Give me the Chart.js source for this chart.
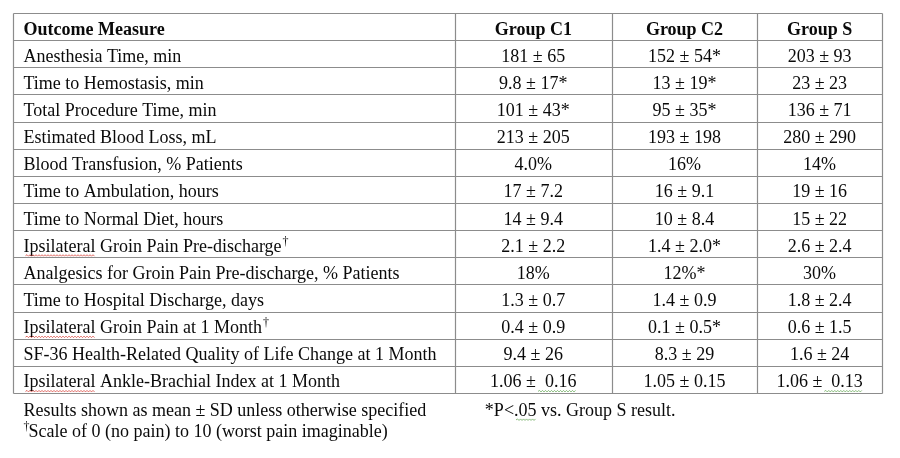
<!DOCTYPE html>
<html>
<head>
<meta charset="utf-8">
<script src="https://cdn.jsdelivr.net/npm/chart.js@4.4.1/dist/chart.umd.min.js"></script>
<style>
  html, body { margin: 0; padding: 0; background: #fff; }
  #wrap { width: 900px; height: 458px; }
</style>
</head>
<body>
<div id="wrap"><canvas id="outcomeChart"></canvas></div>
<script>
// table content
var columns = ["Outcome Measure", "Group C1", "Group C2", "Group S"];
var measures = [
	"Anesthesia Time, min",
	"Time to Hemostasis, min",
	"Total Procedure Time, min",
	"Estimated Blood Loss, mL",
	"Blood Transfusion, % Patients",
	"Time to Ambulation, hours",
	"Time to Normal Diet, hours",
	"Ipsilateral Groin Pain Pre-discharge\u2020",
	"Analgesics for Groin Pain Pre-discharge, % Patients",
	"Time to Hospital Discharge, days",
	"Ipsilateral Groin Pain at 1 Month\u2020",
	"SF-36 Health-Related Quality of Life Change at 1 Month",
	"Ipsilateral Ankle-Brachial Index at 1 Month"
];
var groupC1 = ["181 \u00b1 65", "9.8 \u00b1 17*", "101 \u00b1 43*", "213 \u00b1 205", "4.0%", "17 \u00b1 7.2",
	"14 \u00b1 9.4", "2.1 \u00b1 2.2", "18%", "1.3 \u00b1 0.7", "0.4 \u00b1 0.9", "9.4 \u00b1 26", "1.06 \u00b1  0.16"];
var groupC2 = ["152 \u00b1 54*", "13 \u00b1 19*", "95 \u00b1 35*", "193 \u00b1 198", "16%", "16 \u00b1 9.1",
	"10 \u00b1 8.4", "1.4 \u00b1 2.0*", "12%*", "1.4 \u00b1 0.9", "0.1 \u00b1 0.5*", "8.3 \u00b1 29", "1.05 \u00b1 0.15"];
var groupS = ["203 \u00b1 93", "23 \u00b1 23", "136 \u00b1 71", "280 \u00b1 290", "14%", "19 \u00b1 16",
	"15 \u00b1 22", "2.6 \u00b1 2.4", "30%", "1.8 \u00b1 2.4", "0.6 \u00b1 1.5", "1.6 \u00b1 24", "1.06 \u00b1  0.13"];
var notes = [
	"Results shown as mean \u00b1 SD unless otherwise specified",
	"\u2020Scale of 0 (no pain) to 10 (worst pain imaginable)",
	"*P<.05 vs. Group S result."
];

// layout (x in table fractions, y in row units)
var colEdges = [0, 0.5085, 0.689, 0.8564, 1];
var notePos = [[0.012, 14.55], [0.012, 15.33], [0.543, 14.55]];
var FONT = '"Liberation Serif", "Times New Roman", serif';
var SIZE = 18;
var LINE = '#8c8c8c';
var INK = '#0a0a0a';

// word-processor squiggles seen in the source picture (pre = text just before the marked part)
var squiggles = [
	{ pre: "", text: "Ipsilateral", color: '#d9453c' },
	{ pre: "\u00b1", text: "  0.16", color: '#6aaa5a' },
	{ pre: "\u00b1", text: "  0.13", color: '#6aaa5a' },
	{ pre: "P<", text: ".05", color: '#6aaa5a' }
];

function drawWavy(ctx, x0, x1, yy, color) {
	ctx.save();
	ctx.strokeStyle = color;
	ctx.lineWidth = 0.8;
	ctx.beginPath();
	var up = true;
	ctx.moveTo(x0, yy);
	for (var xx = x0 + 1.5; xx <= x1; xx += 1.5) {
		ctx.lineTo(xx, up ? yy - 1 : yy + 0.5);
		up = !up;
	}
	ctx.stroke();
	ctx.restore();
}

// draws text, superscript daggers and squiggles
function drawCell(ctx, str, x, base, align) {
	var mainFont = SIZE + 'px ' + FONT, supFont = '12px ' + FONT;
	ctx.font = mainFont;
	var parts = str.split('\u2020');
	var main = parts.join('');
	var w = ctx.measureText(main).width;
	var supW = 0;
	if (parts.length > 1) {
		ctx.font = supFont;
		supW = ctx.measureText('\u2020').width + 1;
		ctx.font = mainFont;
	}
	var start = align === 'center' ? x - (w + supW) / 2 : x;
	ctx.textAlign = 'left';
	ctx.textBaseline = 'alphabetic';
	ctx.fillStyle = INK;
	var cx = start;
	parts.forEach(function (p, k) {
		if (k > 0) {
			ctx.font = supFont;
			ctx.fillText('\u2020', cx + 1, base - 7);
			cx += supW;
			ctx.font = mainFont;
		}
		ctx.fillText(p, cx, base);
		cx += ctx.measureText(p).width;
	});
	squiggles.forEach(function (s) {
		var idx = main.indexOf(s.pre + s.text);
		if (idx < 0) return;
		var off = ctx.measureText(main.slice(0, idx + s.pre.length)).width;
		var sw = ctx.measureText(s.text).width;
		drawWavy(ctx, start + off + 2, start + off + sw, base + 4, s.color);
	});
}

var tablePlugin = {
	id: 'outcomeTable',
	beforeDraw: function (chart) {
		var ctx = chart.ctx;
		ctx.save();
		ctx.fillStyle = '#fff';
		ctx.fillRect(0, 0, chart.width, chart.height);
		ctx.restore();
	},
	afterDraw: function (chart) {
		var ctx = chart.ctx;
		var x = chart.scales.x, y = chart.scales.y;
		var nRows = measures.length + 1;
		var px = function (v) { return Math.round(x.getPixelForValue(v)) + 0.5; };
		var py = function (v) { return Math.round(y.getPixelForValue(v)) + 0.5; };
		ctx.save();

		// grid
		ctx.strokeStyle = LINE;
		ctx.lineWidth = 1.2;
		ctx.beginPath();
		for (var r = 0; r <= nRows; r++) {
			ctx.moveTo(px(0), py(r));
			ctx.lineTo(px(1), py(r));
		}
		colEdges.forEach(function (c) {
			ctx.moveTo(px(c), py(0));
			ctx.lineTo(px(c), py(nRows));
		});
		ctx.stroke();

		var rowBase = function (r) { return y.getPixelForValue(r + 0.5) + 8; };
		var colMid = function (c) { return x.getPixelForValue((colEdges[c] + colEdges[c + 1]) / 2); };
		var textLeft = x.getPixelForValue(0) + 10.5;

		// header
		columns.forEach(function (name, c) {
			ctx.font = 'bold ' + SIZE + 'px ' + FONT;
			ctx.fillStyle = INK;
			ctx.textBaseline = 'alphabetic';
			if (c === 0) {
				ctx.textAlign = 'left';
				ctx.fillText(name, textLeft, rowBase(0));
			} else {
				ctx.textAlign = 'center';
				ctx.fillText(name, colMid(c), rowBase(0));
			}
		});

		// body
		var groups = [groupC1, groupC2, groupS];
		measures.forEach(function (m, i) {
			drawCell(ctx, m, textLeft, rowBase(i + 1), 'left');
			groups.forEach(function (g, k) {
				drawCell(ctx, g[i], colMid(k + 1), rowBase(i + 1), 'center');
			});
		});

		// notes
		notes.forEach(function (n, k) {
			var base = y.getPixelForValue(notePos[k][1]) + 8;
			var nx = x.getPixelForValue(notePos[k][0]);
			if (n.charAt(0) === '\u2020') {
				ctx.font = '12px ' + FONT;
				ctx.fillStyle = INK;
				ctx.textAlign = 'left';
				ctx.fillText('\u2020', nx, base - 7);
				var dw = ctx.measureText('\u2020').width;
				drawCell(ctx, n.slice(1), nx + dw - 1, base, 'left');
			} else {
				drawCell(ctx, n, nx, base, 'left');
			}
		});
		ctx.restore();
	}
};

var outcomeChart = new Chart(document.getElementById('outcomeChart'), {
	type: 'scatter',
	data: { datasets: [] },
	options: {
		responsive: true,
		maintainAspectRatio: false,
		animation: false,
		layout: { padding: { left: 13, right: 18, top: 13, bottom: 65 } },
		plugins: { legend: { display: false }, tooltip: { enabled: false } },
		scales: {
			x: { type: 'linear', min: 0, max: 1, display: false },
			y: { type: 'linear', min: 0, max: measures.length + 1, reverse: true, display: false }
		}
	},
	plugins: [tablePlugin]
});
</script>
</body>
</html>
